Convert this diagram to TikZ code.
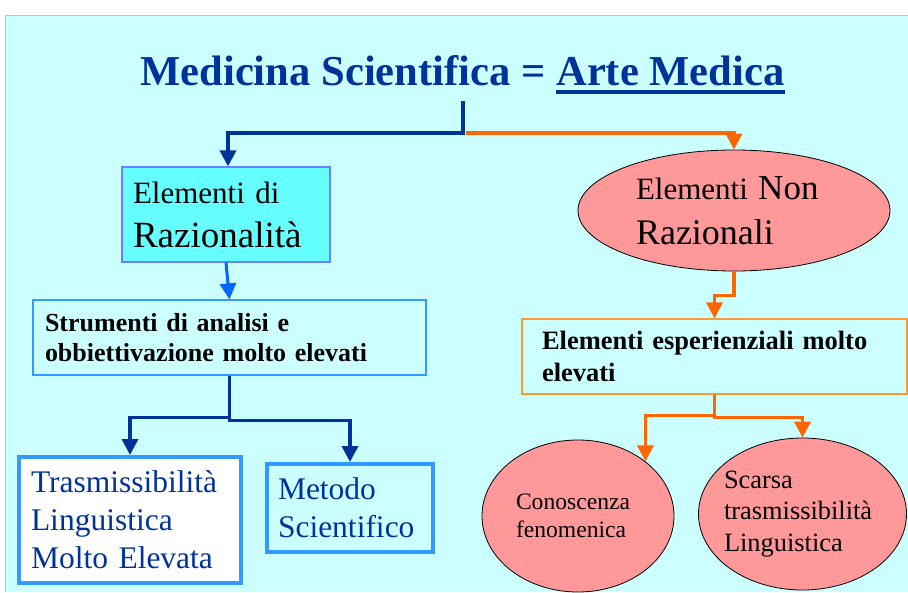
\documentclass[tikz,border=0pt]{standalone}
\usepackage{fontspec}
\setmainfont{Liberation Serif}
\usetikzlibrary{arrows.meta,shapes.geometric}
\definecolor{bgc}{HTML}{CCFFFF}
\definecolor{bgline}{HTML}{99CCFF}
\definecolor{dblue}{HTML}{003399}
\definecolor{orng}{HTML}{FF6600}
\definecolor{lblue}{HTML}{0066FF}
\definecolor{razfill}{HTML}{66FFFF}
\definecolor{razline}{HTML}{6680FF}
\definecolor{boxline}{HTML}{3399FF}
\definecolor{pinkfill}{HTML}{FF9999}
\definecolor{esline}{HTML}{FF9933}
\newcommand\myul[1]{\setbox0=\hbox{#1}\rlap{\rule[-9pt]{\wd0}{4pt}}\box0}
\begin{document}
\begin{tikzpicture}[x=1pt,y=-1pt,
  tip/.style={-{Triangle[width=16pt,length=16pt]}},
  blueconn/.style={draw=dblue, line width=3.5pt, tip},
  orngconn/.style={draw=orng, line width=3.5pt, tip},
  thinbox/.style={rectangle, line width=1.2pt, align=left, inner ysep=0pt},
  thickbox/.style={rectangle, draw=boxline, line width=4pt, align=left, inner ysep=0pt, text=dblue},
  oval/.style={ellipse, draw=black, line width=0.8pt, fill=pinkfill, inner sep=0pt},
  ovaltext/.style={align=left, inner sep=0pt}]
\useasboundingbox (0,0) rectangle (908,592);
\fill[white] (0,0) rectangle (908,592);
\fill[bgc] (5,15) rectangle (908,592);
\draw[bgline, line width=1pt] (908,15) -- (5,15) -- (5,592);

% title
\node[anchor=base, text=dblue, inner sep=0pt, font=\bfseries\fontsize{42.6}{50}\selectfont] (title) at (462.5,85) {Medicina Scientifica = \myul{Arte Medica}};

% left branch
\node[thinbox, draw=razline, fill=razfill, minimum height=95pt, text width=186pt, inner xsep=11pt, font=\fontsize{31}{44}\selectfont] (raz) at (226,214.5) {Elementi di\\{\fontsize{37}{44}\selectfont Razionalità}};
\node[thinbox, draw=boxline, minimum height=75pt, text width=369pt, inner xsep=12pt, font=\bfseries\fontsize{26}{30}\selectfont] (strum) at (229.5,337.5) {Strumenti di analisi e\\obbiettivazione molto elevati};
\node[thickbox, fill=white, minimum height=126pt, text width=198pt, inner xsep=12pt, font=\fontsize{31.5}{38}\selectfont] (tras) at (130,520) {Trasmissibilità\\Linguistica\\Molto Elevata};
\node[thickbox, minimum height=88pt, text width=144pt, inner xsep=11pt, font=\fontsize{31.5}{38}\selectfont] (metodo) at (350,508) {Metodo\\Scientifico};

% right branch
\node[oval, minimum width=312pt, minimum height=121pt] (nonraz) at (734,210.5) {};
\node[ovaltext, text width=196pt, font=\fontsize{31}{45}\selectfont] (nonrazt) at (nonraz.center) {Elementi {\fontsize{35}{45}\selectfont Non}\\{\fontsize{36}{45}\selectfont Razionali}};
\node[thinbox, draw=esline, minimum height=75pt, text width=345pt, inner xsep=20pt, font=\bfseries\fontsize{26.5}{32}\selectfont] (esper) at (714.5,356.5) {Elementi esperienziali molto\\elevati};
\node[oval, minimum width=192pt, minimum height=152pt] (conosc) at (578,516) {};
\node[ovaltext, text width=124pt, font=\fontsize{23.6}{28}\selectfont] (conosct) at (conosc.center) {Conoscenza\\fenomenica};
\node[oval, minimum width=208pt, minimum height=152pt] (scarsa) at (802.5,514) {};
\node[ovaltext, text width=157pt, font=\fontsize{26.4}{31.5}\selectfont] (scarsat) at (scarsa.center) {Scarsa\\trasmissibilità\\Linguistica};

% connectors
\coordinate (stemtop) at (463,101);
\coordinate (fork) at (463,133);
\draw[blueconn] (stemtop) -- (fork) -| ([xshift=2pt]raz.north);
\draw[orngconn] ([xshift=3pt]fork) -| (nonraz.north);
\draw[draw=lblue, line width=3pt, tip] (raz.south) -- (strum.north);
\draw[blueconn] (strum.south) -- ++(0,42) -| (tras.north);
\draw[blueconn] (strum.south) -- ++(0,45) -| (metodo.north);
\draw[orngconn] (nonraz.south) -- ++(0,24) -| (esper.north);
\draw[orngconn] (esper.south) -- ++(0,21) -| (conosc.39);
\draw[orngconn] (esper.south) -- ++(0,23) -| (scarsa.north);
\end{tikzpicture}
\end{document}
